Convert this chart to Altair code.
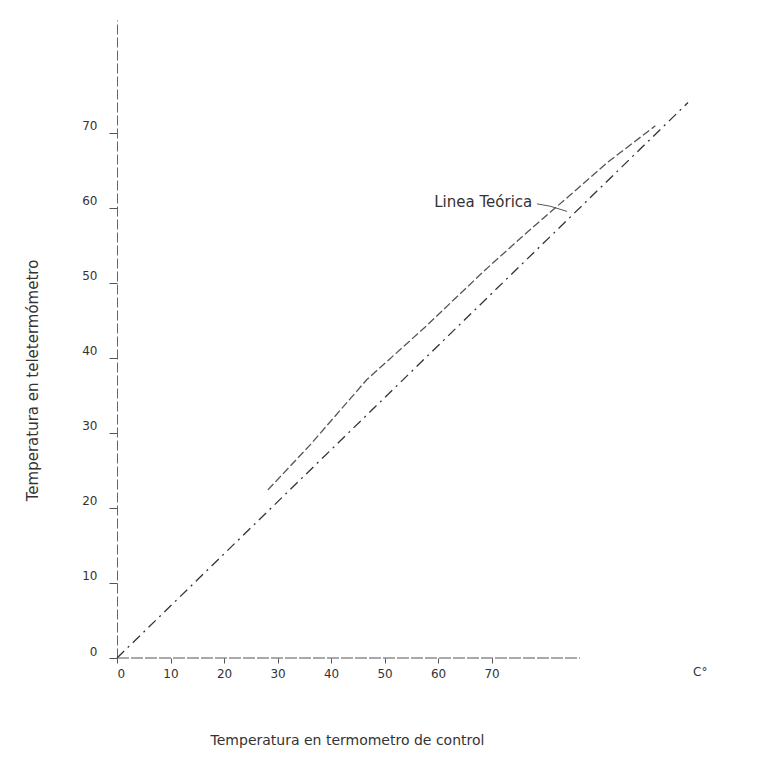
import altair as alt
import pandas as pd

# ---- data ----
x_ticks = [0, 10, 20, 30, 40, 50, 60, 70]
y_ticks = [0, 10, 20, 30, 40, 50, 60, 70]

# theoretical line (dashed, from origin)
teorica_x = [0.0, 106.7]
teorica_y = [0.0, 74.0]

# measured line
medida_x = [28.2, 36.1, 46.7, 57.6, 68.8, 76.6, 85.2, 91.6, 100.6]
medida_y = [22.4, 28.4, 37.1, 44.1, 51.7, 56.7, 62.0, 66.0, 70.9]

# drawn x-axis line extent
axis_x_end = 86.5

# annotation
label_text = ["Linea Teórica"]
label_x = [77.6]
label_y = [60.7]
leader_x = [78.5, 80.9, 84.1]
leader_y = [60.5, 60.2, 59.5]

unit_text = ["C°"]
unit_x = [109.0]
unit_y = [-1.9]

x_title = "Temperatura en termometro de control"
y_title = "Temperatura en teletermómetro"

# ---- build ----
FONT = "DejaVu Sans"
INK = "#333333"

xs = alt.Scale(domain=[0, 111], nice=False, zero=False)
ys = alt.Scale(domain=[0, 85], nice=False, zero=False)

df_t = pd.DataFrame({"x": teorica_x, "y": teorica_y})
df_m = pd.DataFrame({"x": medida_x, "y": medida_y})
df_ax = pd.DataFrame({"x": [0.0], "x2": [axis_x_end], "y": [0.0]})
df_lab = pd.DataFrame({"x": label_x, "y": label_y, "t": label_text})
df_lead = pd.DataFrame({"x": leader_x, "y": leader_y})
df_unit = pd.DataFrame({"x": unit_x, "y": unit_y, "t": unit_text})

x_axis = alt.Axis(
    values=x_ticks, domain=False, grid=False, tickSize=5, tickColor="#555",
    labelPadding=5, labelFontSize=12, labelFont=FONT, labelColor=INK,
    title=x_title, titleFont=FONT, titleFontSize=14, titleFontWeight="normal",
    titleColor=INK, titleX=230, titleY=82, titleBaseline="middle", titleAlign="center",
)
y_axis = alt.Axis(
    values=y_ticks, domain=True, domainColor="#666", domainDash=[10, 3], grid=False,
    tickSize=8, tickColor="#555", labelPadding=12, labelFontSize=12, labelFont=FONT,
    labelColor=INK, labelBaseline="bottom",
    title=y_title, titleFont=FONT, titleFontSize=15,
    titleFontWeight="normal", titleColor=INK, titleX=-85, titleY=360,
    titleBaseline="middle", titleAlign="center", titleAngle=270,
)

X = alt.X("x:Q", scale=xs, axis=x_axis)
Y = alt.Y("y:Q", scale=ys, axis=y_axis)

teorica = alt.Chart(df_t).mark_line(
    color=INK, strokeWidth=1.3, strokeDash=[10, 5, 2, 5]
).encode(x=X, y=Y)

medida = alt.Chart(df_m).mark_line(
    color="#555555", strokeWidth=1.3, strokeDash=[8, 3]
).encode(x=X, y=Y)

xaxis_line = alt.Chart(df_ax).mark_rule(
    color="#555555", strokeWidth=1.2, strokeDash=[12, 2]
).encode(x=X, x2="x2:Q", y=Y)

label = alt.Chart(df_lab).mark_text(
    align="right", baseline="middle", font=FONT, fontSize=15, color=INK
).encode(x=X, y=Y, text="t:N")

leader = alt.Chart(df_lead).mark_line(color="#555555", strokeWidth=1).encode(x=X, y=Y)

unit = alt.Chart(df_unit).mark_text(
    align="center", baseline="middle", font=FONT, fontSize=12, color=INK
).encode(x=X, y=Y, text="t:N")

chart = alt.layer(teorica, medida, xaxis_line, leader, label, unit).properties(
    width=594,
    height=638,
    autosize=alt.AutoSizeParams(type="none"),
    padding={"left": 109, "top": 12, "right": 40, "bottom": 100},
    background="white",
).configure_view(stroke=None)

chart.save("out.html", embed_options={"renderer": "svg", "actions": False})
